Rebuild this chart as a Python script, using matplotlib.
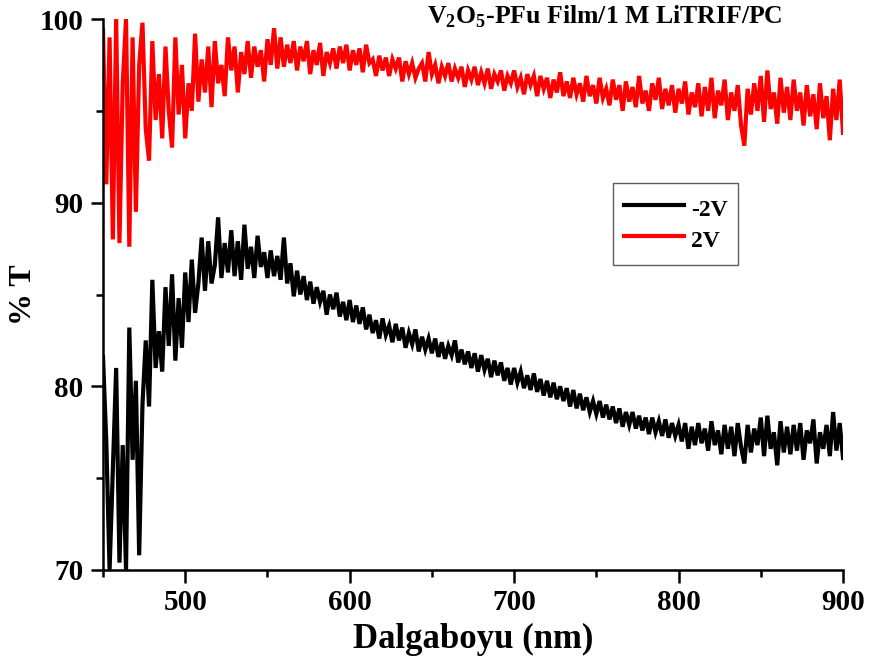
import numpy as np
import matplotlib
matplotlib.use("Agg")
import matplotlib.pyplot as plt
from matplotlib.ticker import MultipleLocator

# Wavelength grid (nm), 2 nm sampling
wavelength = np.arange(450, 901, 2)

# Transmittance (%) at +2 V (bleached state)
t_pos2v = [
    99.4, 91.0, 99.0, 88.0, 100.0, 87.8, 96.5, 100.0, 87.6, 99.0,
    89.5, 97.5, 99.8, 94.0, 92.3, 98.8, 94.5, 97.0, 93.5, 98.5,
    95.0, 93.0, 99.0, 94.8, 97.5, 93.5, 96.5, 95.0, 99.2, 95.5,
    97.8, 96.0, 98.5, 95.2, 98.8, 96.5, 97.5, 95.8, 99.0, 97.2,
    98.5, 96.0, 98.2, 97.0, 98.8, 96.8, 98.5, 97.4, 98.3, 96.6,
    98.9, 97.5, 99.5, 97.3, 99.0, 97.4, 98.6, 97.6, 98.8, 97.2,
    98.5, 97.7, 98.8, 97.0, 98.3, 97.5, 98.7, 96.9, 98.2, 97.6,
    98.4, 97.3, 98.5, 97.6, 98.6, 97.2, 98.3, 97.5, 98.4, 97.1,
    98.6, 97.6, 97.8, 96.9, 98.0, 97.2, 97.9, 96.9, 97.8, 97.3,
    97.9, 96.6, 97.7, 97.0, 97.6, 96.8, 97.3, 97.6, 96.6, 98.2,
    97.0, 97.5, 96.5, 97.4, 96.9, 97.6, 96.6, 97.3, 96.8, 97.4,
    96.3, 97.2, 96.7, 97.4, 96.4, 97.1, 96.5, 97.3, 96.2, 97.0,
    96.6, 97.2, 96.1, 96.9, 96.5, 97.2, 96.3, 96.8, 95.9, 97.0,
    96.4, 96.9, 95.8, 96.9, 96.2, 96.8, 95.7, 96.7, 96.0, 97.1,
    95.8, 96.6, 95.7, 96.8, 95.9, 96.5, 95.5, 96.9, 95.8, 96.4,
    95.4, 96.8, 95.7, 96.2, 95.3, 96.7, 95.6, 96.4, 95.0, 96.6,
    95.5, 96.3, 95.2, 96.9, 95.4, 96.1, 95.0, 96.5, 95.6, 96.8,
    95.1, 96.2, 95.3, 96.4, 94.9, 96.2, 95.4, 96.6, 94.8, 96.0,
    95.2, 96.5, 94.7, 96.3, 95.0, 96.8, 94.6, 96.1, 95.3, 96.7,
    94.5, 96.0, 95.0, 96.4, 94.2, 93.1, 96.2, 94.8, 96.5, 95.0,
    96.9, 94.4, 97.2, 95.1, 96.0, 94.3, 96.8, 94.9, 96.3, 94.5,
    96.7, 95.0, 96.0, 94.2, 96.4, 94.7, 95.9, 94.0, 96.5, 94.6,
    95.8, 93.4, 96.2, 94.5, 96.7, 93.8,
]

# Transmittance (%) at -2 V (coloured state)
t_neg2v = [
    81.6, 77.0, 70.0, 75.5, 81.0, 70.4, 76.8, 70.0, 83.2, 76.0,
    80.3, 70.8, 79.0, 82.5, 78.9, 85.8, 81.0, 83.0, 80.8, 85.4,
    82.2, 86.1, 81.4, 84.8, 82.1, 86.2, 83.5, 86.9, 84.0, 85.6,
    88.1, 85.2, 87.9, 85.6, 86.6, 89.2, 85.9, 87.8, 86.2, 88.5,
    86.0, 87.9, 85.8, 88.8, 86.4, 87.6, 85.9, 88.2, 86.5, 87.3,
    85.9, 87.4, 86.0, 87.1, 85.8, 88.1, 85.6, 86.7, 84.9, 86.3,
    85.0, 86.0, 84.7, 85.7, 84.5, 85.4, 84.6, 85.2, 83.9, 85.0,
    84.2, 85.1, 83.8, 84.6, 83.6, 84.7, 83.5, 84.4, 83.4, 84.3,
    83.1, 83.9, 82.9, 83.6, 82.6, 83.7, 82.8, 83.3, 82.4, 83.4,
    82.5, 83.2, 82.1, 82.9, 82.3, 83.1, 81.9, 82.7, 82.0, 82.6,
    81.8, 82.6, 81.6, 82.4, 81.5, 82.2, 81.7, 82.5, 81.3, 82.0,
    81.2, 81.9, 81.0, 81.8, 80.8, 81.7, 80.9, 81.5, 80.5, 81.4,
    80.6, 81.3, 80.3, 81.0, 80.1, 81.0, 80.2, 80.8, 79.9, 80.6,
    79.8, 80.7, 79.7, 80.4, 79.5, 80.3, 79.4, 80.2, 79.3, 80.0,
    79.2, 79.9, 78.9, 79.8, 78.8, 79.6, 78.7, 79.4, 78.6, 79.2,
    78.5, 79.2, 78.3, 79.0, 78.2, 78.9, 78.0, 78.8, 77.8, 78.6,
    77.9, 78.6, 77.7, 78.4, 77.6, 78.3, 77.4, 78.3, 77.5, 78.1,
    77.3, 78.2, 77.2, 78.0, 77.3, 77.9, 77.0, 78.0, 76.6, 77.8,
    76.8, 78.0, 76.9, 77.7, 76.5, 78.1, 76.8, 77.6, 76.3, 77.9,
    76.6, 77.8, 76.2, 78.0, 76.7, 75.8, 77.9, 76.4, 77.7, 76.8,
    78.3, 76.2, 78.4, 76.6, 77.5, 75.7, 78.1, 76.4, 77.8, 76.3,
    77.9, 76.5, 78.0, 76.0, 77.6, 76.9, 78.2, 75.8, 77.5, 76.6,
    77.9, 76.2, 78.6, 76.5, 78.0, 76.1,
]

series_labels = ["-2V", "2V"]
x_ticks = [500, 600, 700, 800, 900]
y_ticks = [70, 80, 90, 100]

plt.rcParams["font.family"] = ["Liberation Serif", "DejaVu Serif"]
plt.rcParams["font.weight"] = "bold"
plt.rcParams["mathtext.fontset"] = "custom"
plt.rcParams["mathtext.rm"] = "Liberation Serif:bold"
plt.rcParams["mathtext.bf"] = "Liberation Serif:bold"

W, H = 871, 668
fig = plt.figure(figsize=(W / 100, H / 100), dpi=100)
ax = fig.add_axes([103 / W, (H - 570) / H, 740 / W, 551 / H])

ax.plot(wavelength, t_pos2v, color="#ff0000", lw=3.0, label=series_labels[1],
        zorder=2, solid_joinstyle="miter")
ax.plot(wavelength, t_neg2v, color="black", lw=3.0, label=series_labels[0],
        zorder=3, solid_joinstyle="miter")

ax.set_xlim(450, 900)
ax.set_ylim(70, 100)
ax.set_xticks(x_ticks)
ax.set_yticks(y_ticks)
ax.xaxis.set_minor_locator(MultipleLocator(50))
ax.yaxis.set_minor_locator(MultipleLocator(5))

for s in ("top", "right"):
    ax.spines[s].set_visible(False)
for s in ("left", "bottom"):
    ax.spines[s].set_linewidth(1.8)

ax.tick_params(which="major", direction="out", length=9, width=1.8, labelsize=21, pad=5)
ax.tick_params(which="minor", direction="out", length=5, width=1.8)
for lbl in ax.get_xticklabels() + ax.get_yticklabels():
    lbl.set_fontweight("bold")

ax.set_xlabel("Dalgaboyu (nm)", fontsize=25, fontweight="bold", labelpad=5)
ax.set_ylabel("% T", fontsize=23, fontweight="bold")
ax.yaxis.set_label_coords(-0.088, 0.5)

fig.text(605 / W, 1 - 17 / H, r"V$_{\mathbf{2}}$O$_{\mathbf{5}}$-PFu Film/1 M LiTRIF/PC",
         ha="center", va="center", fontsize=18.5, fontweight="bold")

handles, labels = ax.get_legend_handles_labels()
order = [1, 0]
leg = ax.legend([handles[i] for i in order], [labels[i] for i in order],
                loc="upper left", bbox_to_anchor=(613 / W, 1 - 183 / H),
                bbox_transform=fig.transFigure, borderaxespad=0,
                prop={"weight": "bold", "size": 17},
                frameon=True, fancybox=False, edgecolor="#333333",
                handlelength=2.55, handleheight=1.5, handletextpad=0.3,
                labelspacing=0.12, borderpad=0.45)
leg.get_frame().set_linewidth(1.0)
for line in leg.get_lines():
    line.set_linewidth(3)

fig.savefig("out.png", dpi=100)
